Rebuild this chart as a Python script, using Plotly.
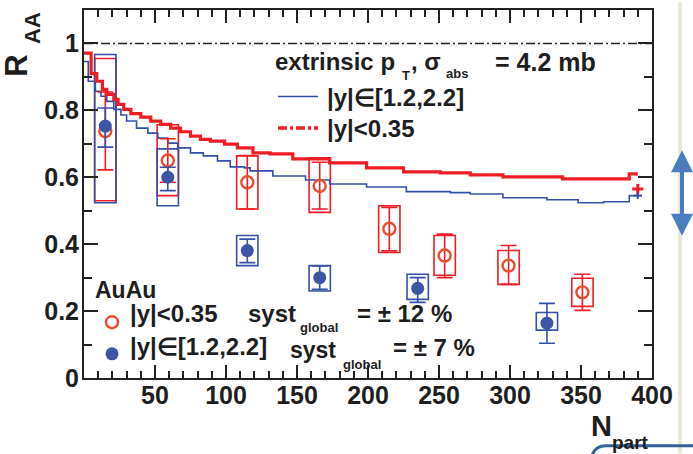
import plotly.graph_objects as go

# ---------------- data ----------------
# model step curves (left bin edges, value)
red_curve_npart = [0, 5, 9, 13, 16, 21, 24, 28, 33, 40, 47, 54, 61, 68, 75, 82, 89, 99, 108,
                   119, 131, 147, 173, 199, 225, 251, 272, 295, 337, 384, 390]
red_curve_raa = [0.971, 0.91, 0.887, 0.863, 0.848, 0.833, 0.818, 0.803, 0.79, 0.78, 0.768, 0.758,
                 0.747, 0.736, 0.723, 0.713, 0.708, 0.699, 0.688, 0.673, 0.67, 0.655, 0.643, 0.628,
                 0.616, 0.613, 0.607, 0.601, 0.595, 0.61, 0.61]
blue_curve_npart = [0, 3, 8, 12, 16, 21, 26, 30, 37, 45, 52, 59, 66, 75, 84, 94, 103, 113, 117, 133,
                    156, 173, 199, 227, 258, 272, 295, 326, 348, 366, 384, 390]
blue_curve_raa = [0.946, 0.887, 0.857, 0.842, 0.827, 0.803, 0.786, 0.768, 0.747, 0.732, 0.717, 0.702,
                  0.688, 0.673, 0.664, 0.649, 0.631, 0.628, 0.619, 0.604, 0.592, 0.58, 0.571, 0.557,
                  0.554, 0.55, 0.539, 0.533, 0.524, 0.527, 0.545, 0.545]
curve_end_npart = [390]
red_curve_end = [0.565]
blue_curve_end = [0.545]

# PHENIX AuAu data, |y|<0.35
mid_npart = [15, 59, 115, 166, 215, 254, 299, 351]
mid_raa = [0.738, 0.65, 0.585, 0.574, 0.446, 0.366, 0.336, 0.256]
mid_stat_hi = [0.855, 0.715, 0.665, 0.645, 0.51, 0.43, 0.396, 0.31]
mid_stat_lo = [0.622, 0.585, 0.505, 0.505, 0.38, 0.30, 0.28, 0.202]
mid_sys_hi = [0.955, 0.757, 0.664, 0.658, 0.515, 0.426, 0.381, 0.298]
mid_sys_lo = [0.53, 0.545, 0.505, 0.495, 0.375, 0.307, 0.28, 0.214]

# |y| in [1.2,2.2]
fwd_npart = [15, 59, 115, 166, 235, 326]
fwd_raa = [0.753, 0.60, 0.381, 0.30, 0.268, 0.164]
fwd_stat_hi = [0.807, 0.63, 0.415, 0.335, 0.30, 0.223]
fwd_stat_lo = [0.69, 0.56, 0.345, 0.265, 0.226, 0.104]
fwd_sys_hi = [0.967, 0.685, 0.426, 0.336, 0.31, 0.196]
fwd_sys_lo = [0.524, 0.515, 0.336, 0.26, 0.235, 0.143]

x_ticks = [50, 100, 150, 200, 250, 300, 350, 400]
y_ticks = [0, 0.2, 0.4, 0.6, 0.8, 1]
y_ticktext = ["0", "0.2", "0.4", "0.6", "0.8", "1"]

# ---------------- style ----------------
RED = "#ee1d25"
RED_PT = "#f04a2c"
BLUE = "#3550a8"
BLUE_PT = "#3c55a5"
TXT = "#1e1e1e"
FONT = "Liberation Sans"
BOX_HW = 7.5
NB = "\u00a0"

W, H = 693, 454
L, R, T, B = 84, 652, 8, 378


def px(X):
    return (X - L) / (R - L)


def py(Y):
    return (B - Y) / (B - T)


fig = go.Figure()

# model curves
fig.add_trace(go.Scatter(x=blue_curve_npart, y=blue_curve_raa, mode="lines", line_shape="hv",
                         line=dict(color=BLUE, width=1.6), name=NB,
                         legend="legend", legendrank=1, hoverinfo="skip"))
fig.add_trace(go.Scatter(x=red_curve_npart, y=red_curve_raa, mode="lines", line_shape="hv",
                         line=dict(color=RED, width=3.2), showlegend=False, hoverinfo="skip"))
fig.add_trace(go.Scatter(x=[None], y=[None], mode="lines",
                         line=dict(color=RED, width=3.6, dash="9px,3px,3px,3px"),
                         name=NB, legend="legend", legendrank=2))
fig.add_trace(go.Scatter(x=curve_end_npart, y=red_curve_end, mode="markers",
                         marker=dict(symbol="line-ew", size=8, line=dict(color=RED, width=3)),
                         error_y=dict(type="constant", value=0.015, color=RED, thickness=3, width=0),
                         showlegend=False))
fig.add_trace(go.Scatter(x=curve_end_npart, y=blue_curve_end, mode="markers",
                         marker=dict(symbol="line-ew", size=6, line=dict(color=BLUE, width=2)),
                         error_y=dict(type="constant", value=0.01, color=BLUE, thickness=2, width=0),
                         showlegend=False))

# systematic boxes
for xv, lo, hi in zip(mid_npart, mid_sys_lo, mid_sys_hi):
    fig.add_shape(type="rect", xref="x", yref="y", x0=xv - BOX_HW, x1=xv + BOX_HW, y0=lo, y1=hi,
                  line=dict(color=RED, width=1.6), layer="below")
for xv, lo, hi in zip(fwd_npart, fwd_sys_lo, fwd_sys_hi):
    fig.add_shape(type="rect", xref="x", yref="y", x0=xv - BOX_HW, x1=xv + BOX_HW, y0=lo, y1=hi,
                  line=dict(color=BLUE, width=1.6), layer="below")

# data points
fig.add_trace(go.Scatter(
    x=mid_npart, y=mid_raa, mode="markers", name=NB, legend="legend2", legendrank=1,
    marker=dict(symbol="circle-open", size=12, line=dict(color=RED_PT, width=2.4), color=RED_PT),
    error_y=dict(type="data", symmetric=False,
                 array=[h - v for h, v in zip(mid_stat_hi, mid_raa)],
                 arrayminus=[v - l for l, v in zip(mid_stat_lo, mid_raa)],
                 color=RED, thickness=1.6, width=8)))
fig.add_trace(go.Scatter(
    x=fwd_npart, y=fwd_raa, mode="markers", name=NB, legend="legend2", legendrank=2,
    marker=dict(symbol="circle", size=13, color=BLUE_PT),
    error_y=dict(type="data", symmetric=False,
                 array=[h - v for h, v in zip(fwd_stat_hi, fwd_raa)],
                 arrayminus=[v - l for l, v in zip(fwd_stat_lo, fwd_raa)],
                 color=BLUE, thickness=1.6, width=8)))

# reference line at 1
fig.add_shape(type="line", xref="paper", yref="y", x0=0, x1=1, y0=1, y1=1,
              line=dict(color="#222", width=1.5, dash="9px,3px,2px,3px"))

bold = dict(family=FONT, weight="bold", color=TXT)

fig.update_layout(
    width=W, height=H,
    margin=dict(l=L, r=W - R, t=T, b=H - B, pad=0),
    paper_bgcolor="white", plot_bgcolor="white",
    showlegend=True,
    legend=dict(x=px(273), y=py(74), xanchor="left", yanchor="top", bgcolor="rgba(0,0,0,0)",
                font=dict(size=22, **bold), itemwidth=40, traceorder="normal"),
    legend2=dict(x=px(92), y=py(301), xanchor="left", yanchor="top", bgcolor="rgba(0,0,0,0)",
                 font=dict(size=22, **bold), itemwidth=30, traceorder="normal"),
    xaxis=dict(range=[0, 400], tickvals=x_ticks, ticks="inside", ticklen=13, tickwidth=1.5,
               tickcolor="#222", showline=True, linecolor="#222", linewidth=2, mirror="allticks",
               showgrid=False, zeroline=False, tickfont=dict(size=25, **bold), ticklabelstandoff=-6,
               minor=dict(dtick=10, tick0=0, ticks="inside", ticklen=7, tickwidth=1.5, tickcolor="#222")),
    yaxis=dict(range=[0, 1.1], tickvals=y_ticks, ticktext=y_ticktext, ticks="inside", ticklen=14,
               tickwidth=1.5, tickcolor="#222", showline=True, linecolor="#222", linewidth=2,
               mirror="allticks", showgrid=False, zeroline=False, tickfont=dict(size=25, **bold),
               ticklabelstandoff=-2,
               minor=dict(dtick=0.1, tick0=0, ticks="inside", ticklen=8, tickwidth=1.5, tickcolor="#222")),
)


def ann(text, X, Y, size, xanchor="left", yanchor="middle", angle=0):
    fig.add_annotation(text=text, x=px(X), y=py(Y), xref="paper", yref="paper", showarrow=False,
                       xanchor=xanchor, yanchor=yanchor, textangle=angle, borderpad=0,
                       font=dict(size=size, **bold))


# top legend header and labels
ann("extrinsic p", 274, 60, 24)
ann("T", 401, 74, 13)
ann(", \u03c3", 410, 60, 24)
ann("abs", 445, 72, 13)
ann("=\u00a04.2\u00a0mb", 494, 60, 25)
ann("|y|\u2208[1.2,2.2]", 326, 96, 24)
ann("|y|<0.35", 326, 127, 24)

# bottom legend
ann("AuAu", 94, 290, 23)
ann("|y|<0.35", 129, 313, 24)
ann("syst", 247, 313, 24)
ann("global", 299, 327, 13)
ann("= \u00b1 12 %", 356, 313, 24)
ann("|y|\u2208[1.2,2.2]", 129, 346, 24)
ann("syst", 289, 350, 23)
ann("global", 342, 364, 13)
ann("= \u00b1 7 %", 392, 347, 24)

# axis titles
ann("R", 17, 64, 31, xanchor="center", yanchor="middle", angle=-90)
ann("AA", 33, 26, 22, xanchor="center", yanchor="middle", angle=-90)
ann("N", 601, 426, 29, xanchor="center", yanchor="middle")
ann("part", 630, 443, 19, xanchor="center", yanchor="middle")

# slide decorations outside the plot
fig.add_shape(type="line", xref="paper", yref="paper", x0=px(680), x1=px(680), y0=py(0), y1=py(454),
              line=dict(color="#ebe7d6", width=4))
fig.add_annotation(x=px(682), y=py(149), xref="paper", yref="paper", ax=0, ay=87, axref="pixel",
                   ayref="pixel", showarrow=True, arrowside="end+start", arrowhead=2, arrowsize=1.1,
                   arrowwidth=4, arrowcolor="#4a7dbd", text="")
fig.add_shape(type="path", xref="paper", yref="paper",
              path=f"M {px(592)},{py(456)} Q {px(595)},{py(446)} {px(606)},{py(446)} L {px(695)},{py(446)}",
              line=dict(color="#36629a", width=3))

fig.write_html("out.html")
